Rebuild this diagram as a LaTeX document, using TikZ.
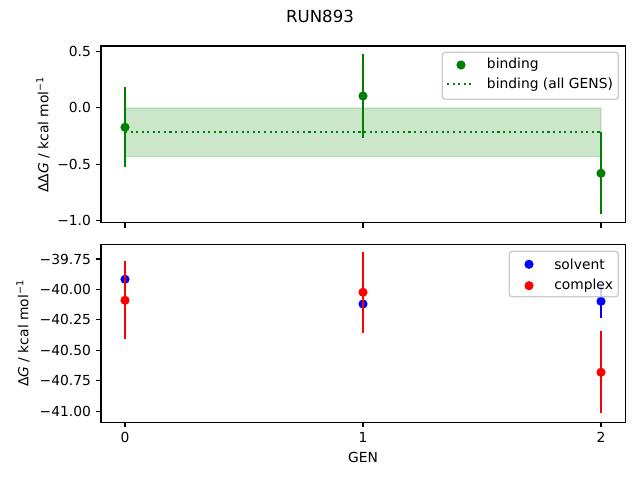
\documentclass[tikz,border=0pt]{standalone}
\usepackage{fontspec}
\setmainfont{DejaVu Sans}
\definecolor{mplgreen}{HTML}{008000}
\definecolor{legedge}{HTML}{CCCCCC}
\begin{document}
\begin{tikzpicture}[x=0.01in,y=-0.01in,inner sep=0pt,font=\fontsize{10}{12}\selectfont,
    frame/.style={line width=0.8bp,black},
    tickmark/.style={line width=0.8bp,black},
    ebar/.style={line width=1.5bp},
    legbox/.style={draw=legedge,line width=1bp,fill=white,fill opacity=0.8,rounded corners=2bp}]
    \useasboundingbox (0,0) rectangle (640,480);
    %title
    \node (title) at (320,16.5) [font=\fontsize{12}{14}\selectfont]{RUN893};

    %top panel: band and mean
    \fill [mplgreen,opacity=0.2] (125,108) rectangle (601,156.7);
    \draw [mplgreen,opacity=0.12,line width=1bp] (125,108) rectangle (601,156.7);
    \draw [mplgreen,line width=1.5bp,dash pattern=on 1.5bp off 2.5bp] (125,131.7) -- (601,131.7);
    %top panel: binding points
    \draw [mplgreen,ebar] (125,87.3) -- (125,166.7);
    \draw [mplgreen,ebar] (363,54) -- (363,137.7);
    \draw [mplgreen,ebar] (601,131.7) -- (601,214.3);
    \foreach \gx/\gy in {125/127.3,363/96,601/173.3}
        \fill [mplgreen] (\gx,\gy) circle [radius=3.3bp];
    %top panel: frame and ticks
    \draw [frame] (101,46) rectangle (625.5,222.7);
    \foreach \yv/\lab in {51.3/0.5,107.6/0.0,164.1/−0.5,220.6/−1.0}{
        \draw [tickmark] (101,\yv) -- (96.1,\yv);
        \node (ttick\lab) at (91.2,\yv) [anchor=east]{\lab};
    }
    \foreach \xv in {125,363,601}
        \draw [tickmark] (\xv,222.7) -- (\xv,227.6);
    \node (tylabel) at (43,134.4) [rotate=90]{ΔΔ\textit{G} / kcal mol\textsuperscript{−1}};
    %top legend
    \draw [legbox] (442.3,52.3) rectangle (618.3,99.3);
    \fill [mplgreen] (461,65) circle [radius=3.3bp];
    \draw [mplgreen,line width=1.5bp,dash pattern=on 1.5bp off 2.5bp] (447,84.3) -- (474.5,84.3);
    \node (legbind) at (486.7,65) [anchor=west]{binding};
    \node (legall) at (486.7,84.3) [anchor=west]{binding (all GENS)};

    %bottom panel: solvent points
    \draw [blue,ebar] (601,285) -- (601,317.7);
    \foreach \gx/\gy in {125/279.3,363/304,601/301.3}
        \fill [blue] (\gx,\gy) circle [radius=3.3bp];
    %bottom panel: complex points
    \draw [red,ebar] (125,261) -- (125,339.3);
    \draw [red,ebar] (363,252) -- (363,332.7);
    \draw [red,ebar] (601,331) -- (601,413.3);
    \foreach \gx/\gy in {125/300.3,363/292.3,601/372.3}
        \fill [red] (\gx,\gy) circle [radius=3.3bp];
    %bottom panel: frame and ticks
    \draw [frame] (101,244.3) rectangle (625.5,422.3);
    \foreach \yv/\lab [count=\i] in {259/−39.75,289.4/−40.00,319.9/−40.25,350.4/−40.50,380.8/−40.75,411.3/−41.00}{
        \draw [tickmark] (101,\yv) -- (96.1,\yv);
        \node (btick\i) at (91.2,\yv) [anchor=east]{\lab};
    }
    \foreach \xv/\lab in {125/0,363/1,601/2}{
        \draw [tickmark] (\xv,422.3) -- (\xv,427.2);
        \node (xtick\lab) at (\xv,432.1) [anchor=north]{\lab};
    }
    \node (xlabel) at (363,457) {GEN};
    \node (bylabel) at (23,333.3) [rotate=90]{Δ\textit{G} / kcal mol\textsuperscript{−1}};
    %bottom legend
    \draw [legbox] (509.3,251.3) rectangle (618.3,296.7);
    \fill [blue] (529,264.3) circle [radius=3.3bp];
    \fill [red] (529,285.7) circle [radius=3.3bp];
    \node (legsolv) at (554,264.3) [anchor=west]{solvent};
    \node (legcplx) at (554,285.7) [anchor=west]{complex};
\end{tikzpicture}
\end{document}
